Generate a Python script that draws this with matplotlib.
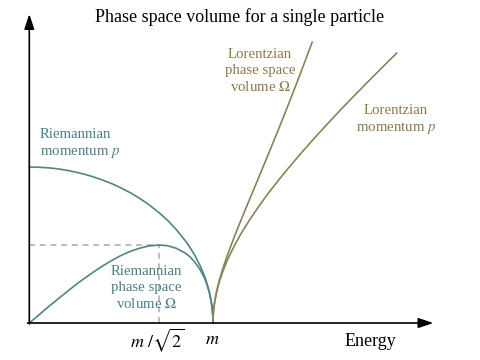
import matplotlib.pyplot as plt

plt.rcParams['font.family'] = ['Liberation Serif', 'DejaVu Serif']
plt.rcParams['mathtext.fontset'] = 'stix'

# energy in units of m, curves (same vertical scale)
riem_energy = [0, 0.05, 0.1, 0.15, 0.2, 0.25, 0.3, 0.35, 0.4, 0.45, 0.5, 0.55,
               0.6, 0.65, 0.707, 0.75, 0.8, 0.85, 0.875, 0.9, 0.93, 0.95,
               0.96, 0.97, 0.98, 0.99, 0.995, 0.999, 1.0]
riem_momentum = [0.849, 0.848, 0.845, 0.840, 0.832, 0.822, 0.810, 0.795, 0.778,
                 0.758, 0.735, 0.709, 0.679, 0.645, 0.600, 0.562, 0.509, 0.447,
                 0.411, 0.370, 0.312, 0.265, 0.238, 0.206, 0.169, 0.120, 0.085,
                 0.038, 0]
riem_volume = [0, 0.042, 0.085, 0.126, 0.166, 0.206, 0.243, 0.278, 0.311, 0.341,
               0.368, 0.390, 0.407, 0.419, 0.4245, 0.421, 0.407, 0.380, 0.360,
               0.333, 0.290, 0.252, 0.228, 0.200, 0.166, 0.119, 0.084, 0.038, 0]

lor_energy_p = [1.0, 1.001, 1.003, 1.005, 1.01, 1.02, 1.035, 1.05, 1.075, 1.1,
                1.125, 1.15, 1.175, 1.2, 1.25, 1.3, 1.35, 1.4, 1.45, 1.5, 1.55,
                1.6, 1.65, 1.7, 1.75, 1.8, 1.85, 1.9, 1.95, 2.0]
lor_momentum = [0, 0.038, 0.066, 0.085, 0.120, 0.170, 0.226, 0.271, 0.335, 0.388,
                0.437, 0.482, 0.523, 0.562, 0.636, 0.705, 0.769, 0.831, 0.890,
                0.948, 1.004, 1.059, 1.113, 1.166, 1.218, 1.269, 1.320, 1.370,
                1.420, 1.469]
lor_energy_v = [1.0, 1.001, 1.003, 1.005, 1.01, 1.02, 1.035, 1.05, 1.075, 1.1,
                1.125, 1.15, 1.175, 1.2, 1.25, 1.3, 1.35, 1.4, 1.45, 1.5, 1.54]
lor_volume = [0, 0.038, 0.066, 0.085, 0.121, 0.174, 0.234, 0.285, 0.360, 0.427,
              0.492, 0.554, 0.615, 0.675, 0.795, 0.916, 1.038, 1.163, 1.291,
              1.422, 1.529]

peak_energy = 0.707
peak_volume = 0.4245

riem_color = '#538484'
lor_color = '#878458'
riem_text = '#4d8086'
lor_text = '#8c7a4e'

fig = plt.figure(figsize=(4.8, 3.6), dpi=100)
ax = fig.add_axes([0, 0, 1, 1])
ax.set_xlim(-0.1595, 2.4535)
ax.set_ylim(-0.2014, 1.7583)
ax.axis('off')

# axes with arrow heads
ax.annotate('', xy=(2.2, 0), xytext=(-0.01, 0),
            arrowprops=dict(arrowstyle='-|>,head_length=0.9,head_width=0.3',
                            color='black', lw=1.2, shrinkA=0, shrinkB=0))
ax.annotate('', xy=(0, 1.682), xytext=(0, -0.005),
            arrowprops=dict(arrowstyle='-|>,head_length=0.9,head_width=0.3',
                            color='black', lw=1.2, shrinkA=0, shrinkB=0))

# dashed guides to the Riemannian maximum
ax.plot([0, peak_energy], [peak_volume, peak_volume], color='#aaaaaa',
        lw=1.1, dashes=(4, 3))
ax.plot([peak_energy, peak_energy], [0, peak_volume], color='#aaaaaa',
        lw=1.1, dashes=(4, 3))

ax.plot(riem_energy, riem_momentum, color=riem_color, lw=1.2)
ax.plot(riem_energy, riem_volume, color=riem_color, lw=1.2)
ax.plot(lor_energy_p, lor_momentum, color=lor_color, lw=1.2)
ax.plot(lor_energy_v, lor_volume, color=lor_color, lw=1.2)


def px(x, y):
    return x / 480, 1 - y / 360


fig.text(*px(240, 17), 'Phase space volume for a single particle',
         ha='center', va='center', fontsize=13)
fig.text(*px(40, 144), 'Riemannian\nmomentum $p$', ha='left', va='center',
         fontsize=10.7, color=riem_text, linespacing=1.3)
fig.text(*px(146, 288), 'Riemannian\nphase space\nvolume $\\Omega$', ha='center',
         va='center', fontsize=10.7, color=riem_text, linespacing=1.3)
fig.text(*px(260, 71), 'Lorentzian\nphase space\nvolume $\\Omega$', ha='center',
         va='center', fontsize=10.7, color=lor_text, linespacing=1.3)
fig.text(*px(396, 120), 'Lorentzian\nmomentum $p$', ha='center', va='center',
         fontsize=10.7, color=lor_text, linespacing=1.3)
fig.text(*px(157, 340), '$m\\ /\\sqrt{2}$', ha='center', va='center', fontsize=13)
fig.text(*px(212, 339), '$m$', ha='center', va='center', fontsize=13)
fig.text(*px(370, 342), 'Energy', ha='center', va='center', fontsize=13)

fig.savefig('out.png', dpi=100)
